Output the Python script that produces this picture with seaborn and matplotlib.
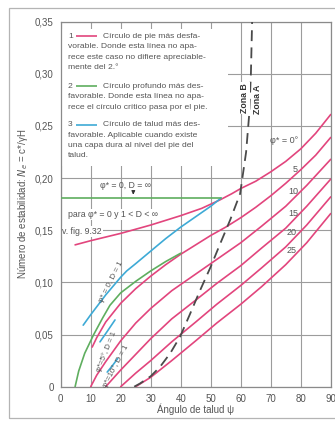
import numpy as np
import pandas as pd
import matplotlib
matplotlib.use("Agg")
import matplotlib.pyplot as plt
from matplotlib.patches import Rectangle
import seaborn as sns

# slope angle (deg) / stability number points
phi0_x = [4.8, 10, 20, 30, 40, 47, 53, 57, 60, 65, 70, 75, 80, 85, 90]
phi0_y = [0.136, 0.140, 0.147, 0.155, 0.164, 0.171, 0.179, 0.185, 0.190, 0.197, 0.206, 0.216, 0.228, 0.243, 0.261]

phi5_x = [10.5, 12, 15, 20, 25, 30, 35, 40, 45, 50, 55, 60, 65, 70, 75, 80, 85, 90]
phi5_y = [0.038, 0.047, 0.062, 0.080, 0.094, 0.106, 0.117, 0.127, 0.136, 0.145, 0.153, 0.162, 0.172, 0.183, 0.195, 0.208, 0.222, 0.239]

phi10_x = [10, 12, 15, 20, 25, 30, 37, 45, 52, 60, 67, 75, 82, 90]
phi10_y = [0.0, 0.011, 0.024, 0.044, 0.061, 0.075, 0.092, 0.108, 0.122, 0.138, 0.154, 0.173, 0.193, 0.218]

phi15_x = [15, 20, 25, 30, 37, 45, 52, 60, 67, 75, 82, 90]
phi15_y = [0.0, 0.016, 0.031, 0.046, 0.065, 0.083, 0.099, 0.116, 0.133, 0.152, 0.173, 0.199]

phi20_x = [20, 25, 30, 37, 45, 52, 60, 67, 75, 82, 90]
phi20_y = [0.0, 0.013, 0.025, 0.043, 0.062, 0.079, 0.097, 0.114, 0.134, 0.155, 0.182]

phi25_x = [25, 30, 37, 45, 52, 60, 67, 75, 82, 90]
phi25_y = [0.0, 0.009, 0.025, 0.044, 0.061, 0.079, 0.096, 0.117, 0.138, 0.166]

deep_x = [4.8, 6, 8, 11, 14, 16.4, 20, 25, 30, 35, 40]
deep_y = [0.0, 0.015, 0.032, 0.050, 0.066, 0.078, 0.090, 0.101, 0.111, 0.120, 0.128]

deep_inf_x = [0, 53.5]
deep_inf_y = [0.181, 0.181]

talud0_x = [7.5, 10, 15, 20, 22, 25, 30, 35, 40, 45, 50, 53.5]
talud0_y = [0.059, 0.069, 0.088, 0.105, 0.111, 0.118, 0.130, 0.142, 0.153, 0.163, 0.173, 0.181]

talud5_x = [13.1, 15.5, 18.1]
talud5_y = [0.043, 0.053, 0.064]

talud10_x = [15.5, 17.2, 19.0]
talud10_y = [0.014, 0.020, 0.027]

zone_x = [24.5, 26.4, 30, 33.1, 36.5, 39.8, 43, 46.4, 50, 53, 56.5, 59.8, 61.8, 62.8, 63.4, 63.8]
zone_y = [0.0, 0.003, 0.010, 0.019, 0.032, 0.048, 0.069, 0.092, 0.115, 0.136, 0.160, 0.185, 0.225, 0.26, 0.30, 0.35]

phi_labels = ["\u03c6* = 0\u00b0", "5", "10", "15", "20", "25"]
phi_label_x = [74.5, 78.1, 77.4, 77.4, 77.0, 77.0]
phi_label_y = [0.236, 0.2085, 0.1875, 0.166, 0.148, 0.131]

x_ticks = [0, 10, 20, 30, 40, 50, 60, 70, 80, 90]
y_ticks = [0, 0.05, 0.10, 0.15, 0.20, 0.25, 0.30, 0.35]
y_tick_labels = ["0", "0,05", "0,10", "0,15", "0,20", "0,25", "0,30", "0,35"]

PINK = "#e2457d"
CYAN = "#3eaad6"
GREEN = "#5fae5f"
GRAY = "#555555"

sns.set_theme(style="white")
plt.rcParams['font.family'] = ['Liberation Sans', 'DejaVu Sans']

fig = plt.figure(figsize=(3.35, 4.21), dpi=100)
ax = fig.add_axes([0.1812, 0.0815, 0.806, 0.867])
ax.set_xlim(0, 90)
ax.set_ylim(0, 0.35)

ax.set_xticks(x_ticks)
ax.set_yticks(y_ticks)
ax.set_yticklabels(y_tick_labels)
ax.grid(True, color="#9c9c9c", lw=0.8)
ax.set_axisbelow(True)
ax.tick_params(axis="both", labelsize=7, colors=GRAY, length=3, width=0.8, pad=2)
ax.tick_params(axis="x", length=0, pad=5)
for s in ax.spines.values():
    s.set_color("#8a8a8a")
    s.set_linewidth(0.9)

# white panel behind the explanatory text
ax.add_patch(Rectangle((0, 0.212), 55.7, 0.131, facecolor="white", edgecolor="none", zorder=1))

curves = [
    (phi0_x, phi0_y, PINK), (phi5_x, phi5_y, PINK), (phi10_x, phi10_y, PINK),
    (phi15_x, phi15_y, PINK), (phi20_x, phi20_y, PINK), (phi25_x, phi25_y, PINK),
    (talud0_x, talud0_y, CYAN), (talud5_x, talud5_y, CYAN), (talud10_x, talud10_y, CYAN),
    (deep_x, deep_y, GREEN), (deep_inf_x, deep_inf_y, GREEN),
]
for xs, ys, c in curves:
    df = pd.DataFrame({"x": xs, "y": ys})
    sns.lineplot(data=df, x="x", y="y", ax=ax, color=c, lw=1.2, sort=False, estimator=None, zorder=3)

zdf = pd.DataFrame({"x": zone_x, "y": zone_y})
sns.lineplot(data=zdf, x="x", y="y", ax=ax, color="#4a4a4a", lw=1.3, sort=False, estimator=None, zorder=4)
ax.lines[-1].set_dashes([6, 3.5])

ax.set_xlabel("\u00c1ngulo de talud \u03c8", fontsize=7, color=GRAY)
ax.xaxis.set_label_coords(0.5, -0.047)
ax.set_ylabel("N\u00famero de estabilidad: $N_e$ = c*/\u03b3H", fontsize=7, color=GRAY)
ax.yaxis.set_label_coords(-0.112, 0.5)

for lab, lx, ly in zip(phi_labels, phi_label_x, phi_label_y):
    ax.text(lx, ly, lab, fontsize=6.5, color=GRAY, ha="center", va="center", zorder=5)

# explanatory text blocks
fs = 6.1
blocks = [
    ("1", PINK, [0.336, 0.326, 0.316, 0.306],
     ["C\u00edrculo de pie m\u00e1s desfa-", "vorable. Donde esta l\u00ednea no apa-",
      "rece este caso no difiere apreciable-", "mente del 2.\u00b0"]),
    ("2", GREEN, [0.288, 0.278, 0.268],
     ["C\u00edrculo profundo m\u00e1s des-", "favorable. Donde esta l\u00ednea no apa-",
      "rece el c\u00edrculo cr\u00edtico pasa por el pie."]),
    ("3", CYAN, [0.251, 0.241, 0.231, 0.222],
     ["C\u00edrculo de talud m\u00e1s des-", "favorable. Aplicable cuando existe",
      "una capa dura al nivel del pie del", "talud."]),
]
for num, col, ys, lines in blocks:
    ax.text(2.4, ys[0], num, fontsize=fs, color=GRAY, va="center", zorder=5)
    ax.hlines(ys[0], 5.2, 12.0, color=col, lw=1.2, zorder=5)
    ax.text(14.2, ys[0], lines[0], fontsize=fs, color=GRAY, va="center", zorder=5)
    for yy, t in zip(ys[1:], lines[1:]):
        ax.text(2.4, yy, t, fontsize=fs, color=GRAY, va="center", zorder=5)

wb = dict(facecolor="white", edgecolor="none", pad=0.6)
ax.text(21.5, 0.193, "\u03c6* = 0, D = \u221e", fontsize=6.3, color=GRAY, ha="center", va="center", zorder=5)
ax.annotate("", xy=(24.2, 0.1815), xytext=(24.2, 0.189),
            arrowprops=dict(arrowstyle="-|>", color="#333333", lw=0.8, mutation_scale=5), zorder=5)
ax.text(2.4, 0.165, "para \u03c6* = 0 y 1 < D < \u221e", fontsize=6.3, color=GRAY, va="center", bbox=wb, zorder=5)
ax.text(0.5, 0.149, "v. fig. 9.32", fontsize=6.3, color=GRAY, va="center", bbox=wb, zorder=2)

ax.text(16.8, 0.100, "\u03c6* = 0, D = 1", fontsize=5.8, color=GRAY, rotation=63, ha="center", va="center", zorder=5)
ax.text(15.3, 0.034, "\u03c6*=5\u00b0, D = 1", fontsize=5.6, color=GRAY, rotation=68, ha="center", va="center", zorder=5)
ax.text(18.3, 0.020, "\u03c6*=10\u00b0, D = 1", fontsize=5.6, color=GRAY, rotation=62, ha="center", va="center", zorder=5)

ax.text(61.4, 0.277, "Zona B", fontsize=6.3, color="#333333", fontweight="bold", rotation=90,
        ha="center", va="center", bbox=wb, zorder=5)
ax.text(65.6, 0.276, "Zona A", fontsize=6.3, color="#333333", fontweight="bold", rotation=90,
        ha="center", va="center", bbox=wb, zorder=5)

# scanned page frame
fig.patches.append(Rectangle((0.027, 0.007), 1.2, 0.974, transform=fig.transFigure,
                             fill=False, ec="#b4b4b4", lw=0.9))

fig.savefig("out.png", dpi=100)
